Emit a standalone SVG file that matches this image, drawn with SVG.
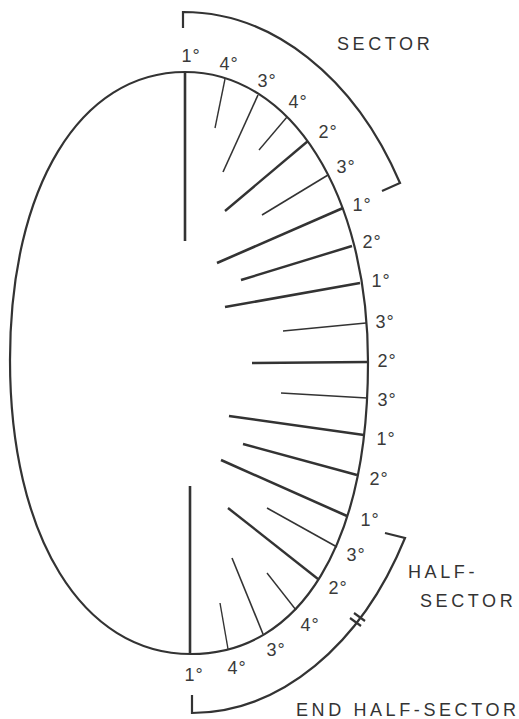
<svg xmlns="http://www.w3.org/2000/svg" width="519" height="719" viewBox="0 0 519 719">
<style>
  .outline{fill:none;stroke:#333;stroke-width:2.2}
  .br{fill:none;stroke:#333;stroke-width:2.2;stroke-linejoin:miter}
  .p1{stroke:#333;stroke-width:2.6;stroke-linecap:butt}
  .p2{stroke:#333;stroke-width:2.4}
  .p3{stroke:#333;stroke-width:1.6}
  .p4{stroke:#333;stroke-width:1.4}
  .deg{font-family:"Liberation Sans",Arial,sans-serif;font-size:18px;fill:#3a3a3a;text-anchor:middle;letter-spacing:1px}
  .cap{font-family:"Liberation Sans",Arial,sans-serif;font-size:18px;fill:#333;letter-spacing:3.6px}
</style>
<rect width="519" height="719" fill="#fff"/>
<g id="outline">
  <path class="outline" d="M185,72 C291,72 368,194 368,362 C368,543 301,654 191,654 C82,654 10,536 10,360 C10,187 80,72 185,72 Z"/>
</g>
<g id="connectors">
  <line class="p1" x1="185" y1="72" x2="185" y2="241"/>
  <line class="p4" x1="225" y1="79" x2="215" y2="128"/>
  <line class="p3" x1="258" y1="95" x2="223" y2="172"/>
  <line class="p4" x1="287" y1="117" x2="259" y2="150"/>
  <line class="p2" x1="308" y1="141" x2="225" y2="211"/>
  <line class="p3" x1="328" y1="175" x2="262" y2="215"/>
  <line class="p1" x1="343" y1="208" x2="217" y2="263"/>
  <line class="p2" x1="352" y1="246" x2="241" y2="280"/>
  <line class="p1" x1="360" y1="283" x2="225" y2="307"/>
  <line class="p3" x1="366" y1="323" x2="283" y2="331"/>
  <line class="p2" x1="368" y1="362" x2="252" y2="363"/>
  <line class="p3" x1="367" y1="398" x2="281" y2="393"/>
  <line class="p1" x1="364" y1="435" x2="229" y2="416"/>
  <line class="p2" x1="357" y1="475" x2="243" y2="444"/>
  <line class="p1" x1="347" y1="516" x2="221" y2="460"/>
  <line class="p3" x1="337" y1="547" x2="267" y2="508"/>
  <line class="p2" x1="318" y1="579" x2="228" y2="508"/>
  <line class="p4" x1="296" y1="610" x2="267" y2="573"/>
  <line class="p3" x1="263" y1="634" x2="232" y2="558"/>
  <line class="p4" x1="228" y1="649" x2="220" y2="603"/>
  <line class="p1" x1="190" y1="654" x2="190" y2="486"/>
</g>
<g id="brackets">
  <path class="br" d="M183,28 L183,12 A252,350 0 0 1 400,183 L382,191"/>
  <path class="br" d="M385,533 L405,538 A247,351 0 0 1 192,713 L192,695"/>
  <line class="br" x1="365" y1="621" x2="354" y2="613"/>
  <line class="br" x1="361" y1="626" x2="350" y2="618"/>
</g>
<g id="labels">
  <text class="deg" x="191" y="62">1°</text>
  <text class="deg" x="229" y="70">4°</text>
  <text class="deg" x="267" y="87">3°</text>
  <text class="deg" x="298" y="108">4°</text>
  <text class="deg" x="328" y="138">2°</text>
  <text class="deg" x="346" y="173">3°</text>
  <text class="deg" x="362" y="211">1°</text>
  <text class="deg" x="372" y="248">2°</text>
  <text class="deg" x="381" y="287">1°</text>
  <text class="deg" x="385" y="328">3°</text>
  <text class="deg" x="387" y="367">2°</text>
  <text class="deg" x="387" y="406">3°</text>
  <text class="deg" x="386" y="445">1°</text>
  <text class="deg" x="379" y="485">2°</text>
  <text class="deg" x="370" y="526">1°</text>
  <text class="deg" x="356" y="561">3°</text>
  <text class="deg" x="338" y="594">2°</text>
  <text class="deg" x="310" y="631">4°</text>
  <text class="deg" x="276" y="656">3°</text>
  <text class="deg" x="237" y="674">4°</text>
  <text class="deg" x="194" y="681">1°</text>
</g>
<g id="captions">
  <text class="cap" x="337" y="50">SECTOR</text>
  <text class="cap" x="408" y="578">HALF-</text>
  <text class="cap" x="420" y="607">SECTOR</text>
  <text class="cap" x="296" y="716">END HALF-SECTOR</text>
</g>
</svg>
